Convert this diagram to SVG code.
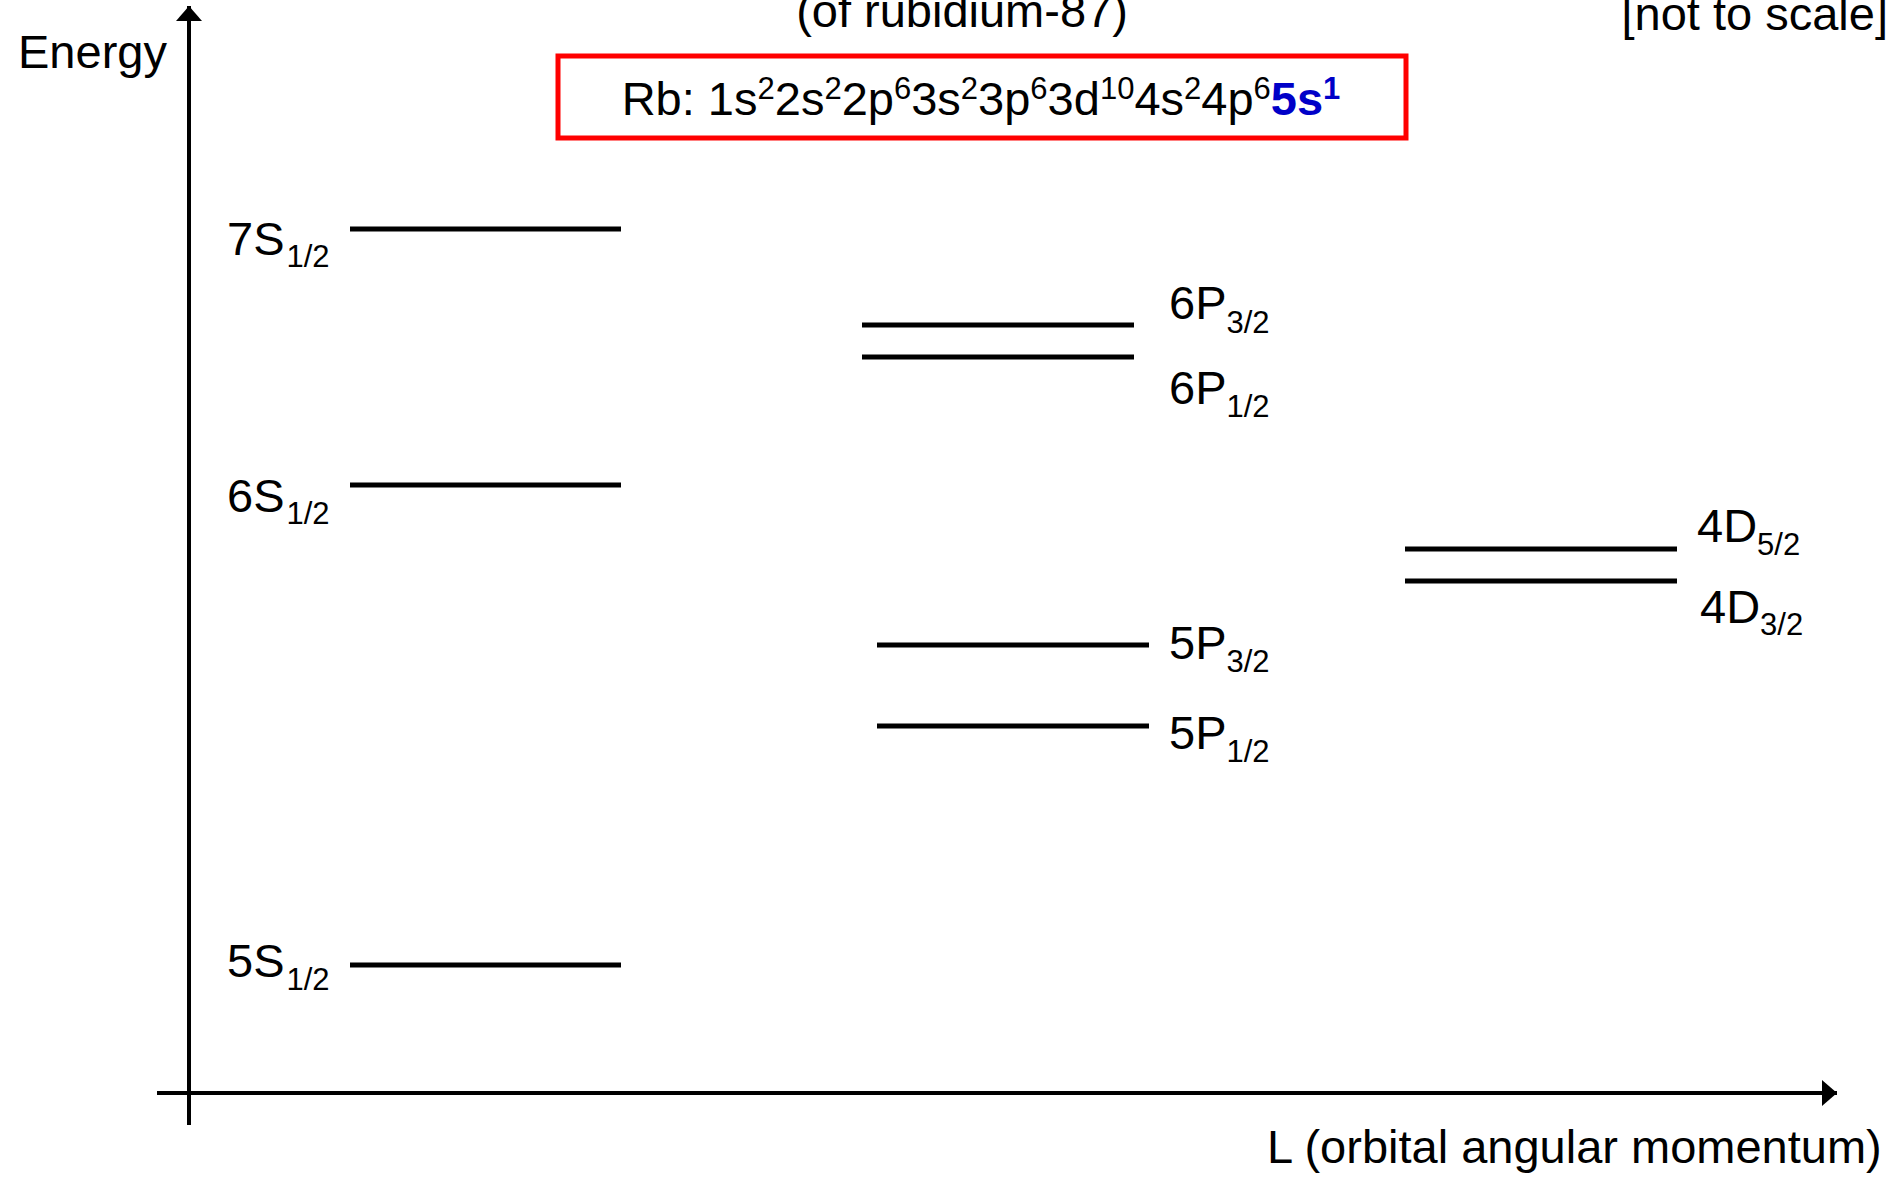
<svg xmlns="http://www.w3.org/2000/svg" width="1901" height="1180" viewBox="0 0 1901 1180">
<style>
  text { font-family: "Liberation Sans", Arial, sans-serif; fill: #000; }
  .big { font-size: 47px; }
  .sub { font-size: 31px; }
  .sup { font-size: 31px; }
  .lvl { stroke: #000; stroke-width: 5; fill: none; }
  .axis { stroke: #000; stroke-width: 4; fill: none; }
  .blue { fill: #0000C8; font-weight: bold; }
</style>
<defs>
  <marker id="arrow" markerWidth="15" markerHeight="26" refX="15" refY="13" orient="auto" markerUnits="userSpaceOnUse">
    <path d="M0,0 L15,13 L0,26 Z" fill="#000"/>
  </marker>
</defs>
<rect width="1901" height="1180" fill="#fff"/>

<g id="connectors">
  <line class="axis" x1="189" y1="1125" x2="189" y2="6" marker-end="url(#arrow)"/>
  <line class="axis" x1="157" y1="1093" x2="1837" y2="1093" marker-end="url(#arrow)"/>
</g>

<g id="titles">
  <text class="big" x="962" y="27" text-anchor="middle">(of rubidium-87)</text>
  <text class="big" x="1888" y="30" text-anchor="end">[not to scale]</text>
  <text class="big" x="18" y="68" font-size="48">Energy</text>
  <text class="big" x="1267" y="1163" font-size="47.8">L (orbital angular momentum)</text>
</g>

<g id="config">
  <rect x="558" y="56" width="848" height="82" fill="none" stroke="#FF0000" stroke-width="5"/>
  <text class="big" x="981" y="115" text-anchor="middle">Rb: 1s<tspan class="sup" dy="-16">2</tspan><tspan dy="16">2s</tspan><tspan class="sup" dy="-16">2</tspan><tspan dy="16">2p</tspan><tspan class="sup" dy="-16">6</tspan><tspan dy="16">3s</tspan><tspan class="sup" dy="-16">2</tspan><tspan dy="16">3p</tspan><tspan class="sup" dy="-16">6</tspan><tspan dy="16">3d</tspan><tspan class="sup" dy="-16">10</tspan><tspan dy="16">4s</tspan><tspan class="sup" dy="-16">2</tspan><tspan dy="16">4p</tspan><tspan class="sup" dy="-16">6</tspan><tspan class="blue" dy="16">5s</tspan><tspan class="sup blue" dy="-16">1</tspan></text>
</g>

<g id="level-7S">
  <line class="lvl" x1="350" y1="229" x2="621" y2="229"/>
  <text class="big" x="227" y="255">7S<tspan class="sub" dx="2" dy="12">1/2</tspan></text>
</g>
<g id="level-6S">
  <line class="lvl" x1="350" y1="485" x2="621" y2="485"/>
  <text class="big" x="227" y="512">6S<tspan class="sub" dx="2" dy="12">1/2</tspan></text>
</g>
<g id="level-5S">
  <line class="lvl" x1="350" y1="965" x2="621" y2="965"/>
  <text class="big" x="227" y="977">5S<tspan class="sub" dx="2" dy="13">1/2</tspan></text>
</g>
<g id="level-6P32">
  <line class="lvl" x1="862" y1="325" x2="1134" y2="325"/>
  <text class="big" x="1169" y="319">6P<tspan class="sub" dy="14">3/2</tspan></text>
</g>
<g id="level-6P12">
  <line class="lvl" x1="862" y1="357" x2="1134" y2="357"/>
  <text class="big" x="1169" y="404">6P<tspan class="sub" dy="13">1/2</tspan></text>
</g>
<g id="level-5P32">
  <line class="lvl" x1="877" y1="645" x2="1149" y2="645"/>
  <text class="big" x="1169" y="659">5P<tspan class="sub" dy="13">3/2</tspan></text>
</g>
<g id="level-5P12">
  <line class="lvl" x1="877" y1="726" x2="1149" y2="726"/>
  <text class="big" x="1169" y="749">5P<tspan class="sub" dy="13">1/2</tspan></text>
</g>
<g id="level-4D52">
  <line class="lvl" x1="1405" y1="549" x2="1677" y2="549"/>
  <text class="big" x="1697" y="542">4D<tspan class="sub" dy="13">5/2</tspan></text>
</g>
<g id="level-4D32">
  <line class="lvl" x1="1405" y1="581" x2="1677" y2="581"/>
  <text class="big" x="1700" y="623">4D<tspan class="sub" dy="12">3/2</tspan></text>
</g>
</svg>
